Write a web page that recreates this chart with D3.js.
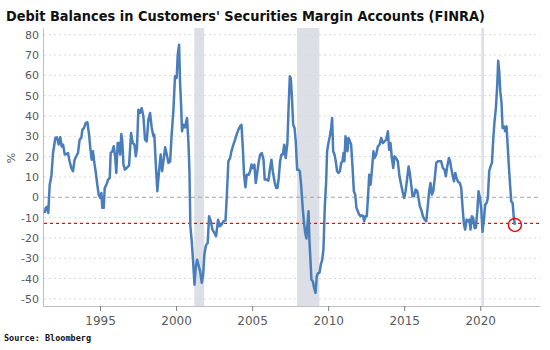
<!DOCTYPE html>
<html lang="en">
<head>
<meta charset="UTF-8">
<title>Debit Balances in Customers' Securities Margin Accounts</title>
<script src="https://d3js.org/d3.v7.min.js"></script>
<style>
  body { margin: 0; background: #fff; }
  svg { display: block; }
  .tick text { fill: #595959; font-family: "DejaVu Sans", Verdana, sans-serif; font-size: 11px; }
</style>
</head>
<body>
<div id="chart"></div>
<script>

// year-on-year change of margin debt, %
const years = [
  1991.36,1991.43,1991.51,1991.60,1991.69,1991.80,1991.91,1992.06,1992.17,1992.28,
  1992.39,1992.48,1992.57,1992.68,1992.79,1992.89,1993.00,1993.11,1993.22,1993.33,
  1993.44,1993.55,1993.66,1993.77,1993.84,1993.95,1994.06,1994.17,1994.28,1994.36,
  1994.45,1994.54,1994.61,1994.71,1994.82,1994.91,1995.00,1995.09,1995.15,1995.24,
  1995.31,1995.42,1995.53,1995.64,1995.70,1995.81,1995.90,1995.99,1996.07,1996.16,
  1996.25,1996.32,1996.40,1996.46,1996.54,1996.64,1996.75,1996.91,1997.04,1997.15,
  1997.26,1997.35,1997.43,1997.52,1997.63,1997.74,1997.85,1997.96,1998.07,1998.18,
  1998.29,1998.40,1998.51,1998.57,1998.68,1998.77,1998.86,1998.99,1999.08,1999.17,
  1999.28,1999.39,1999.50,1999.61,1999.71,1999.82,1999.93,2000.04,2000.11,2000.20,
  2000.26,2000.33,2000.39,2000.48,2000.59,2000.72,2000.81,2000.88,2000.94,2001.03,
  2001.12,2001.21,2001.29,2001.38,2001.47,2001.58,2001.69,2001.78,2001.86,2001.95,
  2002.02,2002.08,2002.17,2002.28,2002.39,2002.52,2002.63,2002.76,2002.87,2003.00,
  2003.11,2003.25,2003.33,2003.44,2003.55,2003.64,2003.77,2003.88,2003.99,2004.10,
  2004.21,2004.30,2004.39,2004.47,2004.56,2004.65,2004.78,2004.87,2004.96,2005.04,
  2005.15,2005.24,2005.35,2005.44,2005.53,2005.64,2005.75,2005.83,2005.96,2006.07,
  2006.18,2006.27,2006.36,2006.47,2006.58,2006.67,2006.75,2006.84,2006.93,2007.02,
  2007.11,2007.21,2007.32,2007.39,2007.48,2007.54,2007.61,2007.70,2007.79,2007.87,
  2007.96,2008.05,2008.14,2008.22,2008.31,2008.40,2008.49,2008.57,2008.64,2008.71,
  2008.77,2008.84,2008.90,2008.99,2009.08,2009.17,2009.25,2009.34,2009.43,2009.52,
  2009.61,2009.69,2009.78,2009.87,2009.93,2010.02,2010.11,2010.20,2010.26,2010.33,
  2010.42,2010.50,2010.59,2010.68,2010.77,2010.86,2010.94,2011.01,2011.07,2011.14,
  2011.21,2011.27,2011.34,2011.43,2011.51,2011.60,2011.69,2011.78,2011.86,2011.95,
  2012.04,2012.13,2012.21,2012.30,2012.37,2012.46,2012.54,2012.63,2012.70,2012.79,
  2012.87,2012.98,2013.05,2013.16,2013.27,2013.38,2013.49,2013.60,2013.71,2013.82,
  2013.93,2014.01,2014.10,2014.19,2014.28,2014.36,2014.47,2014.58,2014.69,2014.80,
  2014.89,2015.00,2015.09,2015.20,2015.29,2015.37,2015.46,2015.55,2015.64,2015.75,
  2015.86,2015.94,2016.03,2016.12,2016.23,2016.34,2016.45,2016.56,2016.64,2016.73,
  2016.82,2016.91,2017.00,2017.11,2017.21,2017.32,2017.43,2017.54,2017.65,2017.74,
  2017.83,2017.94,2018.02,2018.09,2018.22,2018.27,2018.36,2018.44,2018.55,2018.66,
  2018.75,2018.84,2018.93,2019.01,2019.10,2019.19,2019.28,2019.36,2019.45,2019.54,
  2019.63,2019.71,2019.80,2019.89,2019.98,2020.07,2020.15,2020.24,2020.33,2020.42,
  2020.50,2020.59,2020.68,2020.77,2020.86,2020.94,2021.03,2021.12,2021.18,2021.25,
  2021.32,2021.40,2021.47,2021.56,2021.64,2021.73,2021.80,2021.89,2021.97,2022.04,
  2022.13,2022.21,2022.28
];
const values = [
  -7.7,-5.2,-4.7,-7.7,6.2,10.3,21.8,29.2,29.5,26,
  29.5,25,25.9,21,21.3,21.8,17.7,14.4,12.8,18.5,
  20.2,21.8,28.4,29.2,33.3,34.1,36.6,36.9,30.8,24.3,
  18.5,22.6,17.7,12.8,6.2,1.3,-0.3,2.1,-5.2,-5.2,
  4.6,6.2,8.7,9.5,21.8,22.6,25.1,20.2,12,26.7,
  26.7,21,31.1,28,16.1,13.6,14.4,15.7,31.6,26.7,
  26,20.2,24.3,43.1,41.5,43.9,39.8,28.4,27.5,38.2,
  41.5,34.1,30,30.8,14.4,3,11.1,21,12.8,17.7,
  24.6,21,16.9,17.7,30.8,42.3,59.5,58.7,70.2,75.1,
  57,45.6,32.5,35.7,34.4,39,27.5,12.8,-14.3,-21.6,
  -31.5,-43,-34.8,-30.7,-33.1,-36.4,-42.1,-38,-28.2,-24.1,
  -23,-22.5,-9.3,-11.8,-15.9,-17.5,-19.2,-11,-14.3,-13.4,
  -11.8,-11.5,-0.3,17.7,19.3,22.6,25.9,28.4,31.1,33.3,
  34.9,35.7,24.3,11.1,4.9,11.1,11.1,12.8,16.1,14.4,
  16.1,7,12.8,17.7,21,21.8,18.5,8.7,8.7,8.2,
  14.4,18.5,12.8,7.9,4.6,4.6,9.5,17.7,21,21,
  25.9,19.3,26.7,42.3,59.5,58.7,50.5,35.7,34.1,27.5,
  13.6,13.6,12.8,6.2,-3.6,-11.8,-17.5,-20.3,-13.4,-6.9,
  -21.6,-31.5,-40.5,-41.3,-44.6,-47,-38.9,-37.2,-37.2,-33.1,
  -30.7,-25.7,-4.4,7.9,22.6,26.7,30,34.1,39,22.6,
  21,17.7,12.8,12,12.8,16.9,17.7,21.8,17.7,30,
  27.5,22.6,29.2,27.5,26,15.2,3,1.3,-5.2,-6.9,
  -8.5,-9.3,-8.9,-9.3,-11.8,-9.3,-9.3,1.3,11.1,6.2,
  12.8,22.6,19.3,21,25.1,25.9,29.2,26.7,27.5,28.4,
  32.5,23.4,26.7,19.3,14.4,20.2,19.3,17.7,10.3,6.2,
  3,-0.3,3,9.5,15.2,12,6.2,0.5,0.5,3.8,
  3,-0.3,-4.4,-6.1,-9.3,-11,-11.8,-3.6,3,7,
  1.3,3,8.7,16.9,17.7,17.7,17.7,14.4,13.6,10.3,
  15.2,19.3,17.7,14.4,9.5,7.9,12,9.5,7.5,7,
  4.6,-5.2,-13.4,-15.9,-11,-11.8,-11,-15.9,-9.3,-10.2,
  -15.1,-15.1,-7.7,3,-0.3,-6.1,-17,-11,-3.6,-2.8,
  -0.3,12.8,15.2,16.9,29.2,37.4,43.9,55.4,67.2,62,
  52.1,46.4,34.1,34.9,32.5,34.9,25.9,14.4,5.4,-2,
  -2.8,-10.2,-13.6
];

// recession periods (shaded)
const recStart = [2001.20, 2007.95, 2020.07];
const recEnd   = [2001.85, 2009.42, 2020.24];

const xTicks = [1995, 2000, 2005, 2010, 2015, 2020];
const yTicks = [-50, -40, -30, -20, -10, 0, 10, 20, 30, 40, 50, 60, 70, 80];
const refLevel = -12.8;

const width = 550, height = 350;
const plotL = 43, plotR = 540, plotT = 28, plotB = 306;

const data = years.map((t, i) => ({t: t, v: values[i]}));

const svg = d3.select("#chart").append("svg")
  .attr("width", width)
  .attr("height", height);

const x = d3.scaleLinear().domain([1991.25, 2023.93]).range([plotL, plotR]);
const y = d3.scaleLinear().domain([-53.5, 83.3]).range([plotB, plotT]);

// recession shading
svg.selectAll(".rec")
  .data(recStart)
  .enter().append("rect")
  .attr("class", "rec")
  .attr("x", d => x(d))
  .attr("width", (d, i) => x(recEnd[i]) - x(d))
  .attr("y", plotT)
  .attr("height", plotB - plotT)
  .attr("fill", "#dcdfe6");

// gridlines
svg.selectAll(".grid")
  .data(yTicks.filter(d => d != 0))
  .enter().append("line")
  .attr("class", "grid")
  .attr("x1", plotL + 1).attr("x2", plotR)
  .attr("y1", d => y(d)).attr("y2", d => y(d))
  .attr("stroke", "#d9d9d9")
  .attr("stroke-dasharray", "2,3");

svg.append("line")
  .attr("x1", plotL + 1).attr("x2", plotR)
  .attr("y1", y(0)).attr("y2", y(0))
  .attr("stroke", "#a6a6a6")
  .attr("stroke-dasharray", "4,3");

// axes
const yAxis = svg.append("g")
  .attr("transform", `translate(${plotL},0)`)
  .call(d3.axisLeft(y).tickValues(yTicks).tickFormat(d => String(d)).tickSize(0).tickPadding(4));
yAxis.select(".domain").attr("stroke", "#bfbfbf");

const xAxis = svg.append("g")
  .attr("transform", `translate(0,${plotB})`)
  .call(d3.axisBottom(x).tickValues(xTicks).tickFormat(d3.format("d")).tickSizeInner(5).tickSizeOuter(0).tickPadding(5));
xAxis.select(".domain").attr("stroke", "#bfbfbf");
xAxis.selectAll(".tick line").attr("stroke", "#7f7f7f");
xAxis.selectAll(".tick text").style("font-size", "12px");

// reference level
svg.append("line")
  .attr("x1", plotL + 1).attr("x2", plotR)
  .attr("y1", y(refLevel)).attr("y2", y(refLevel))
  .attr("stroke", "#e01010")
  .attr("stroke-width", 1.2)
  .attr("stroke-dasharray", "3,3");

// the series
const line = d3.line()
  .x(d => x(d.t))
  .y(d => y(d.v));

svg.append("path")
  .datum(data)
  .attr("fill", "none")
  .attr("stroke", "#4a7ebb")
  .attr("stroke-width", 2.5)
  .attr("stroke-linejoin", "round")
  .attr("d", line);

const last = data[data.length - 1];
svg.append("circle")
  .attr("cx", x(last.t))
  .attr("cy", y(last.v))
  .attr("r", 6.5)
  .attr("fill", "none")
  .attr("stroke", "#e01010")
  .attr("stroke-width", 1.5);

// texts
svg.append("text")
  .attr("x", 6)
  .attr("y", 21)
  .attr("font-family", "'DejaVu Sans', Verdana, sans-serif")
  .attr("font-weight", "bold")
  .attr("font-size", 14)
  .attr("fill", "#111")
  .attr("textLength", 479)
  .attr("lengthAdjust", "spacingAndGlyphs")
  .text("Debit Balances in Customers' Securities Margin Accounts (FINRA)");

svg.append("text")
  .attr("transform", "translate(15,158) rotate(-90)")
  .attr("text-anchor", "middle")
  .attr("font-family", "'DejaVu Sans', Verdana, sans-serif")
  .attr("font-size", 11)
  .attr("fill", "#595959")
  .text("%");

svg.append("text")
  .attr("x", 4)
  .attr("y", 341)
  .attr("font-family", "'DejaVu Sans Mono', monospace")
  .attr("font-weight", "bold")
  .attr("font-size", 8.5)
  .attr("fill", "#111")
  .text("Source: Bloomberg");

</script>
</body>
</html>
